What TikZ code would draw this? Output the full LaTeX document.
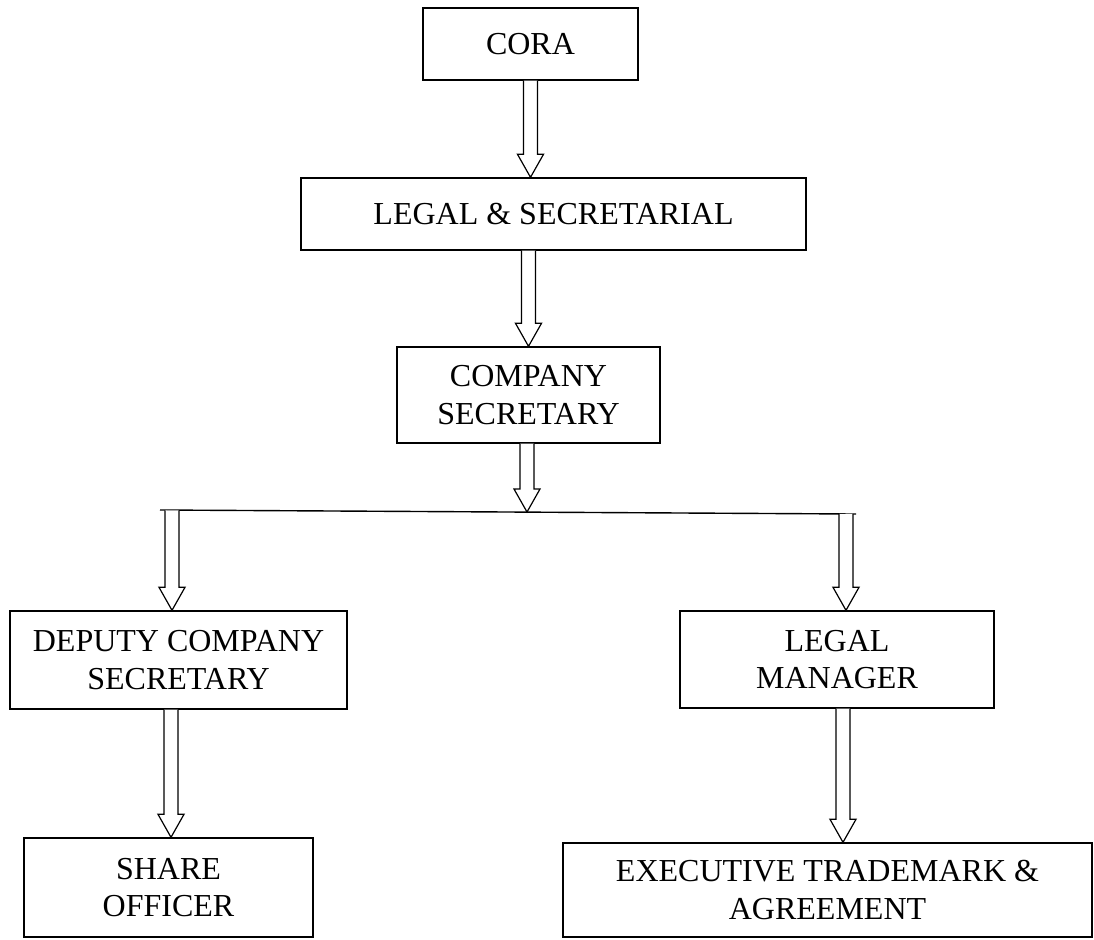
\documentclass[tikz,border=0pt]{standalone}
\usepackage{fontspec}
\setmainfont{Liberation Serif}
\usetikzlibrary{calc}
\tikzset{
  box/.style={draw, line width=0.7pt, inner sep=0pt, align=center,
    font=\fontsize{16}{18.8}\selectfont},
  arrowline/.style={draw, line width=0.6pt, line join=miter, fill=white},
}
\newcommand\hollowarrow[2]{%
  \draw[arrowline] let \p1=(#1), \p2=(#2) in
    (\x1-3.5pt,\y1) -- (\x1-3.5pt,\y2+11.5pt) -- (\x1-6.5pt,\y2+11.5pt)
    -- (\x1,\y2) -- (\x1+6.5pt,\y2+11.5pt) -- (\x1+3.5pt,\y2+11.5pt)
    -- (\x1+3.5pt,\y1);}
\begin{document}
\begin{tikzpicture}[x=0.5pt,y=-0.5pt]
\useasboundingbox (0,0) rectangle (1094,939);
\node[box, minimum width=107.5pt, minimum height=36pt] (cora) at (530.5,44) {CORA};
\node[box, minimum width=252.5pt, minimum height=36pt] (legal) at (553.5,214) {LEGAL \& SECRETARIAL};
\node[box, minimum width=131.5pt, minimum height=48pt] (comp) at (528.5,395) {COMPANY\\SECRETARY};
\node[box, minimum width=168.5pt, minimum height=49pt] (dep) at (178.5,660) {DEPUTY COMPANY\\SECRETARY};
\node[box, minimum width=157pt, minimum height=48.5pt] (lmgr) at (837,659.5) {LEGAL\\MANAGER};
\node[box, minimum width=144.5pt, minimum height=49.5pt] (share) at (168.5,887.5) {SHARE\\OFFICER};
\node[box, minimum width=264.5pt, minimum height=47pt] (exec) at (827.5,890) {EXECUTIVE TRADEMARK \&\\AGREEMENT};
\coordinate (bl) at (160,510);
\coordinate (br) at (856,514);
\coordinate (bj) at (527,512);
\coordinate (la) at (172,510.3);
\coordinate (ra) at (846,513.8);
\draw[line width=0.7pt] (bl) -- (br);
\hollowarrow{cora.south}{cora.south |- legal.north}
\hollowarrow{comp.north |- legal.south}{comp.north}
\hollowarrow{[xshift=-0.75pt]comp.south}{[xshift=-0.75pt]comp.south |- bj}
\hollowarrow{la}{la |- dep.north}
\hollowarrow{ra}{ra |- lmgr.north}
\hollowarrow{[xshift=1.25pt]share.north |- dep.south}{[xshift=1.25pt]share.north}
\hollowarrow{[xshift=3pt]lmgr.south}{[xshift=3pt]lmgr.south |- exec.north}
\end{tikzpicture}
\end{document}
